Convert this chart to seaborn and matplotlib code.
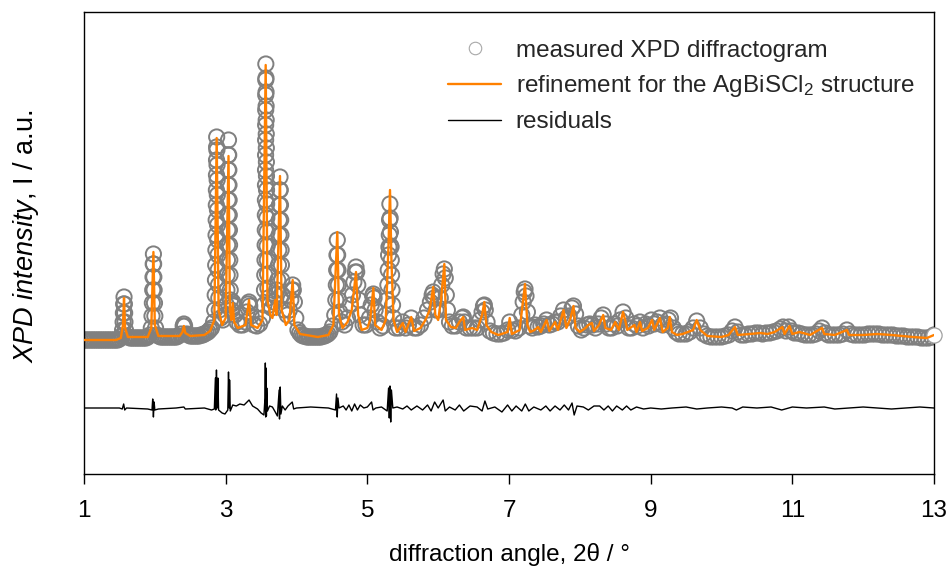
import numpy as np
import matplotlib
matplotlib.use("Agg")
import matplotlib.pyplot as plt
import seaborn as sns
from matplotlib.lines import Line2D

# ---------------- data ----------------
# measured XPD diffractogram (2theta in degrees, intensity in arbitrary units)
obs_x = [
    1.00, 1.025, 1.05, 1.075, 1.10, 1.125, 1.15, 1.175, 1.20, 1.225, 1.25, 1.275, 1.30, 1.325, 1.35, 1.375, 1.40, 1.425, 1.45, 1.475, 1.50,
    1.53, 1.545, 1.552, 1.556, 1.560, 1.565, 1.570, 1.574, 1.578, 1.585, 1.60,
    1.625, 1.65, 1.675, 1.70, 1.725, 1.75, 1.775, 1.80, 1.825, 1.85, 1.875, 1.90,
    1.93, 1.95, 1.96, 1.965, 1.970, 1.974, 1.977, 1.980, 1.983, 1.986, 1.990, 1.995, 2.000, 2.010, 2.03,
    2.055, 2.08, 2.105, 2.13, 2.155, 2.18, 2.205, 2.23, 2.255, 2.28, 2.305, 2.33,
    2.37, 2.40, 2.41, 2.42, 2.45,
    2.475, 2.50, 2.525, 2.55, 2.575, 2.60, 2.625, 2.65, 2.675, 2.70, 2.725, 2.75, 2.775, 2.80, 2.83,
    2.845, 2.852, 2.856, 2.859, 2.862, 2.864, 2.866, 2.868, 2.869, 2.870, 2.871, 2.872, 2.873,
    2.876, 2.878, 2.880, 2.882, 2.884, 2.886, 2.888, 2.891, 2.894, 2.898, 2.903, 2.91, 2.93, 2.96, 2.99,
    3.010, 3.018, 3.022, 3.025, 3.028, 3.030, 3.032, 3.034, 3.036, 3.037, 3.038, 3.040,
    3.043, 3.045, 3.047, 3.049, 3.051, 3.053, 3.055, 3.058, 3.061, 3.064, 3.068,
    3.08, 3.09, 3.10, 3.11, 3.13, 3.16, 3.20, 3.24, 3.28,
    3.30, 3.32, 3.33, 3.34, 3.36, 3.40, 3.44, 3.48, 3.52, 3.54,
    3.548, 3.552, 3.555, 3.557, 3.559, 3.560, 3.561, 3.562, 3.563, 3.5635, 3.564, 3.5645, 3.565, 3.5655, 3.566, 3.567,
    3.569, 3.570, 3.571, 3.572, 3.573, 3.574, 3.575, 3.576, 3.577, 3.579, 3.581, 3.583, 3.585, 3.588, 3.591, 3.595, 3.60,
    3.62, 3.65, 3.68, 3.70, 3.72,
    3.735, 3.745, 3.750, 3.754, 3.757, 3.760, 3.763, 3.767,
    3.771, 3.774, 3.777, 3.780, 3.783, 3.787, 3.792, 3.80,
    3.83, 3.87, 3.90, 3.92, 3.935, 3.946, 3.955, 3.97, 3.99, 4.02,
    4.045, 4.07, 4.095, 4.12, 4.145, 4.17, 4.195, 4.22, 4.245, 4.27, 4.295, 4.32, 4.345, 4.37, 4.395, 4.42, 4.445, 4.47, 4.51,
    4.54, 4.555, 4.562, 4.567, 4.571, 4.576, 4.581, 4.585, 4.590, 4.597, 4.61, 4.64,
    4.68, 4.72, 4.76, 4.79, 4.81, 4.83, 4.84, 4.85, 4.865, 4.88, 4.90, 4.94, 4.98,
    5.03, 5.055, 5.075, 5.085, 5.095, 5.11, 5.14, 5.18, 5.22, 5.26,
    5.28, 5.29, 5.295, 5.30, 5.305, 5.31, 5.314, 5.318, 5.322, 5.326, 5.330, 5.334, 5.338, 5.342, 5.348, 5.356, 5.37,
    5.40, 5.45, 5.50, 5.54, 5.58, 5.62, 5.66, 5.70, 5.75, 5.80, 5.85, 5.89,
    5.915, 5.93, 5.945, 5.97, 6.00, 6.03, 6.05, 6.07, 6.087, 6.10, 6.115, 6.13, 6.16,
    6.20, 6.25, 6.30, 6.34, 6.355, 6.37, 6.40, 6.45, 6.50, 6.55, 6.59,
    6.62, 6.64, 6.652, 6.665, 6.69, 6.73, 6.78, 6.83, 6.88, 6.93, 6.98, 7.01, 7.04, 7.09, 7.14, 7.18,
    7.20, 7.215, 7.226, 7.24, 7.26, 7.29,
    7.33, 7.37, 7.41, 7.45, 7.49, 7.53, 7.57, 7.61, 7.65, 7.69, 7.73, 7.77, 7.81, 7.85, 7.89, 7.91, 7.94, 7.98,
    8.02, 8.06, 8.10, 8.14, 8.18, 8.22, 8.26, 8.30, 8.33, 8.37, 8.41, 8.45, 8.49, 8.53, 8.57, 8.61, 8.65, 8.69,
    8.73, 8.77, 8.81, 8.85, 8.89, 8.93, 8.97,
    9.01, 9.05, 9.09, 9.13, 9.17, 9.21, 9.25, 9.28, 9.32, 9.36, 9.40, 9.45, 9.50, 9.55, 9.60, 9.65, 9.70, 9.75,
    9.80, 9.85, 9.90, 9.95,
    10.00, 10.05, 10.10, 10.15, 10.19, 10.23, 10.28, 10.33, 10.38, 10.43, 10.48, 10.53, 10.58, 10.63, 10.68,
    10.73, 10.78, 10.83, 10.87, 10.91, 10.95, 10.99,
    11.03, 11.08, 11.13, 11.18, 11.23, 11.28, 11.33, 11.38, 11.42, 11.46, 11.51, 11.56, 11.61, 11.66, 11.71,
    11.77, 11.82, 11.87, 11.92, 11.97,
    12.02, 12.07, 12.12, 12.17, 12.22, 12.27, 12.32, 12.37, 12.42, 12.47, 12.52, 12.57, 12.62, 12.67, 12.72,
    12.77, 12.82, 12.87, 12.92, 12.97, 13.00,
]
obs_y = [
    0, 0, 0, 0, 0, 0, 0, 0, 0, 0, 0, 0, 0, 0, 0, 0, 0, 0, 0, 0, 1,
    4, 10, 18, 27, 36, 43, 36, 27, 18, 10, 4,
    3, 2, 2, 2, 2, 2, 2, 2, 2, 2, 2, 3,
    5, 12, 24, 37, 50, 63, 76, 86, 76, 63, 50, 37, 24, 12, 5,
    4, 3, 3, 3, 3, 3, 3, 3, 3, 3, 3, 4,
    6, 14, 16, 14, 6,
    5, 4, 4, 4, 4, 4, 4, 5, 5, 6, 7, 8, 10, 12, 18,
    30, 45, 60, 75, 90, 105, 120, 135, 150, 165, 180, 193, 203,
    190, 175, 160, 145, 130, 115, 100, 85, 70, 55, 42, 30, 22, 20, 25,
    35, 50, 65, 80, 95, 110, 125, 140, 155, 170, 185, 200,
    185, 170, 155, 140, 125, 110, 95, 80, 65, 50, 40,
    30, 36, 38, 34, 25, 18, 15, 15, 18,
    28, 36, 38, 34, 24, 15, 14, 16, 22, 35,
    50, 65, 80, 95, 110, 125, 140, 155, 170, 185, 200, 215, 230, 245, 260, 276,
    262, 248, 234, 220, 206, 192, 178, 164, 150, 136, 122, 108, 94, 80, 66, 52, 42,
    35, 32, 38, 45, 50,
    60, 75, 90, 105, 120, 135, 150, 163,
    150, 135, 120, 105, 90, 75, 60, 45,
    30, 25, 30, 40, 50, 55, 50, 38, 22, 10,
    7, 5, 4, 4, 3, 3, 3, 3, 3, 3, 3, 3, 3, 4, 4, 5, 6, 8, 14,
    25, 40, 55, 70, 85, 100, 85, 70, 55, 40, 28, 18,
    15, 22, 35, 45, 58, 68, 73, 68, 55, 40, 25, 15, 15,
    22, 35, 44, 46, 42, 30, 18, 12, 14, 25,
    40, 55, 70, 85, 93, 105, 120, 136, 122, 108, 94, 93, 80, 65, 50, 35, 22,
    12, 12, 18, 12, 15, 22, 12, 12, 15, 22, 30, 38,
    45, 48, 42, 30, 30, 42, 55, 66, 71, 62, 45, 30, 18,
    14, 14, 18, 22, 23, 18, 12, 12, 12, 12, 20,
    28, 34, 35, 30, 18, 9, 7, 6, 6, 7, 10, 18, 10, 9, 12, 25,
    38, 48, 51, 44, 28, 14,
    12, 15, 13, 14, 16, 20, 15, 16, 18, 18, 24, 30, 22, 24, 32, 34, 26, 14,
    10, 12, 15, 16, 15, 12, 16, 22, 25, 16, 12, 12, 16, 14, 20, 28, 22, 12,
    12, 16, 14, 18, 12, 16, 14,
    20, 16, 18, 22, 15, 16, 20, 22, 12, 8, 6, 6, 6, 8, 12, 19, 12, 6,
    4, 3, 3, 3,
    3, 4, 5, 9, 13, 8, 5, 5, 6, 6, 7, 7, 6, 7, 7,
    8, 9, 11, 13, 9, 13, 9,
    7, 7, 6, 5, 5, 5, 6, 9, 12, 7, 5, 5, 5, 5, 6,
    10, 6, 5, 5, 5,
    5, 6, 6, 6, 6, 5, 5, 5, 5, 4, 4, 4, 3, 3, 3,
    3, 2, 2, 2, 3, 5,
]

# refinement for the AgBiSCl2 structure
calc_x = [
    1.00, 1.45, 1.52, 1.55, 1.565, 1.58, 1.62, 1.90, 1.95, 1.98, 2.00, 2.05, 2.35, 2.39, 2.41, 2.43, 2.50, 2.70, 2.78, 2.84,
    2.873, 2.90, 2.95, 3.00, 3.04, 3.06, 3.08, 3.10, 3.12, 3.17, 3.28, 3.33, 3.36, 3.45, 3.52, 3.565, 3.59, 3.63, 3.66, 3.70,
    3.72, 3.767, 3.79, 3.85, 3.90, 3.946, 3.97, 4.05, 4.30, 4.45, 4.52, 4.576, 4.60, 4.65, 4.72, 4.78, 4.84, 4.87, 4.92, 5.00,
    5.04, 5.085, 5.11, 5.20, 5.26, 5.30, 5.32, 5.34, 5.37, 5.42, 5.50, 5.54, 5.62, 5.66, 5.75, 5.82, 5.88, 5.93, 5.96, 6.00,
    6.04, 6.087, 6.11, 6.18, 6.25, 6.30, 6.355, 6.38, 6.48, 6.55, 6.62, 6.652, 6.68, 6.75, 6.85, 6.98, 7.01, 7.04, 7.15, 7.226,
    7.26, 7.30, 7.36, 7.41, 7.45, 7.53, 7.57, 7.65, 7.69, 7.77, 7.81, 7.87, 7.91, 7.94, 8.00, 8.08, 8.12, 8.17, 8.20, 8.27,
    8.33, 8.36, 8.44, 8.50, 8.55, 8.61, 8.64, 8.67, 8.77, 8.80, 8.85, 8.88, 8.96, 9.02, 9.05, 9.13, 9.17, 9.24, 9.27, 9.30,
    9.37, 9.45, 9.60, 9.65, 9.70, 9.80, 10.00, 10.10, 10.19, 10.23, 10.40, 10.55, 10.65, 10.75, 10.86, 10.89, 10.96, 11.00, 11.10, 11.25,
    11.42, 11.45, 11.60, 11.77, 11.80, 12.00, 12.20, 12.40, 12.70, 12.90, 13.00,
]
calc_y = [
    0, 0, 2, 15, 42, 12, 3, 3, 12, 88, 15, 4, 4, 8, 14, 7, 4, 5, 9, 20,
    202, 30, 15, 22, 184, 30, 20, 37, 18, 12, 15, 40, 15, 12, 20, 275, 40, 25, 22, 40,
    25, 164, 30, 15, 20, 60, 15, 6, 3, 5, 15, 108, 25, 12, 18, 30, 68, 25, 10, 12,
    20, 52, 15, 10, 20, 97, 150, 80, 20, 8, 17, 8, 23, 9, 12, 20, 30, 53, 25, 20,
    40, 76, 20, 13, 12, 18, 23, 10, 12, 10, 25, 38, 15, 8, 5, 8, 22, 6, 10, 56,
    15, 8, 10, 13, 8, 20, 9, 18, 10, 30, 12, 22, 34, 12, 8, 12, 15, 17, 9, 15,
    25, 12, 10, 18, 10, 28, 20, 10, 15, 8, 18, 9, 12, 20, 10, 22, 8, 12, 23, 8,
    5, 6, 10, 20, 10, 4, 3, 5, 13, 5, 6, 7, 6, 8, 13, 6, 14, 6, 8, 5,
    12, 6, 5, 10, 5, 5, 6, 5, 3, 2, 5,
]

# residuals (measured - refined)
res_x = [
    1.00, 1.50, 1.54, 1.56, 1.575, 1.60, 1.90, 1.96, 1.97, 1.98, 1.99, 2.00, 2.05, 2.30, 2.41, 2.43, 2.70, 2.80, 2.84, 2.855,
    2.86, 2.87, 2.88, 2.89, 2.90, 2.95, 2.99, 3.03, 3.04, 3.05, 3.055, 3.065, 3.10, 3.15, 3.20, 3.26, 3.33, 3.38, 3.45, 3.50,
    3.54, 3.555, 3.56, 3.565, 3.57, 3.575, 3.58, 3.59, 3.62, 3.66, 3.70, 3.73, 3.755, 3.76, 3.77, 3.78, 3.80, 3.84, 3.88, 3.94,
    3.96, 4.00, 4.20, 4.45, 4.55, 4.565, 4.575, 4.585, 4.60, 4.66, 4.70, 4.74, 4.78, 4.82, 4.86, 4.90, 4.95, 5.00, 5.06, 5.08,
    5.12, 5.20, 5.28, 5.30, 5.31, 5.32, 5.33, 5.34, 5.36, 5.42, 5.50, 5.56, 5.62, 5.70, 5.78, 5.85, 5.90, 5.95, 6.00, 6.07,
    6.10, 6.16, 6.24, 6.30, 6.36, 6.45, 6.55, 6.62, 6.66, 6.70, 6.80, 6.90, 6.98, 7.04, 7.10, 7.18, 7.23, 7.28, 7.35, 7.45,
    7.52, 7.58, 7.65, 7.72, 7.78, 7.84, 7.89, 7.92, 7.96, 8.05, 8.12, 8.20, 8.28, 8.34, 8.40, 8.46, 8.52, 8.60, 8.66, 8.72,
    8.80, 8.90, 9.00, 9.15, 9.30, 9.50, 9.65, 9.80, 10.00, 10.15, 10.21, 10.30, 10.50, 10.70, 10.85, 11.00, 11.20, 11.45, 11.60, 11.80,
    12.00, 12.20, 12.40, 12.60, 12.80, 13.00,
]
res_y = [
    0, 0, -1, 4, -2, 0, -1, -2, 9, -9, 6, -2, -1, 0, 1, -1, 0, -2, -1, 30,
    -2, 38, 0, 30, -2, -5, -6, -2, 36, 0, 28, -3, 3, 2, 4, 3, 8, 2, -1, -5,
    -7, 10, 45, -9, 40, -8, 20, -3, 2, 1, -4, -8, 18, -11, 21, -6, 2, -2, 2, 6,
    -1, 0, 1, 0, -2, 14, -9, 10, 0, 2, -2, 3, -3, 4, -2, 3, 0, 1, 6, -2,
    0, 1, -3, 20, -10, 22, -14, 18, 0, 1, -1, 2, -2, 2, -2, 3, -3, 6, 0, 8,
    -3, 1, -2, 3, -3, 2, 1, -3, 7, -1, 1, -4, 3, -3, 2, -3, 4, -3, 1, -2,
    2, -3, 2, -2, 3, -2, 5, -7, 2, 1, -2, 2, 2, -2, 2, -3, 2, -2, 2, -2,
    1, -1, 0, -1, 0, 1, -1, 0, 1, 0, -2, 1, 0, 1, -2, 1, 0, 1, -1, 0,
    1, 0, -1, 0, 1, 0,
]

x_ticks = [1, 3, 5, 7, 9, 11, 13]
legend_labels = ["measured XPD diffractogram",
                 r"refinement for the AgBiSCl$_2$ structure",
                 "residuals"]

assert len(obs_x) == len(obs_y), (len(obs_x), len(obs_y))
assert len(calc_x) == len(calc_y), (len(calc_x), len(calc_y))
assert len(res_x) == len(res_y), (len(res_x), len(res_y))

# ---------------- styling / layout ----------------
sns.set_theme(style="white")
plt.rcParams["font.family"] = ["Liberation Sans", "DejaVu Sans"]
plt.rcParams["mathtext.fontset"] = "custom"
plt.rcParams["mathtext.rm"] = "Liberation Sans"
plt.rcParams["mathtext.it"] = "Liberation Sans:italic"
plt.rcParams["mathtext.bf"] = "Liberation Sans:bold"

FS = 17.5
RES_OFFSET = -68
ORANGE = "#ff8000"
GREY = "#808080"

fig = plt.figure(figsize=(9.52, 5.81), dpi=100)
ax = fig.add_axes([84 / 952, 1 - 474 / 581, 850 / 952, 462 / 581])

sns.scatterplot(x=obs_x, y=obs_y, ax=ax, marker="o", s=120,
                facecolor="none", edgecolor=GREY, linewidth=1.4,
                legend=False, zorder=2)
# last measured point drawn over the frame, as in the original
sns.scatterplot(x=obs_x[-1:], y=obs_y[-1:], ax=ax, marker="o", s=120,
                facecolor="white", edgecolor="#a0a0a0", linewidth=0.9,
                legend=False, zorder=5, clip_on=False)
sns.lineplot(x=calc_x, y=calc_y, ax=ax, sort=False, estimator=None,
             color=ORANGE, linewidth=1.7, zorder=6)
sns.lineplot(x=res_x, y=np.array(res_y) + RES_OFFSET, ax=ax, sort=False,
             estimator=None, color="black", linewidth=1.0, zorder=4)

ax.set_xlim(1, 13)
ax.set_ylim(-134, 328)
ax.set_xticks(x_ticks)
ax.set_xticklabels([str(t) for t in x_ticks])
ax.set_yticks([])
ax.tick_params(axis="x", bottom=True, direction="out", length=7, width=1.0,
               color="black", labelsize=FS, pad=12, labelcolor="black")
for sp in ax.spines.values():
    sp.set_visible(True)
    sp.set_color("black")
    sp.set_linewidth(1.0)

ax.set_xlabel("diffraction angle, 2θ / °", fontsize=FS, color="black", labelpad=15)
ax.set_ylabel(r"$\it{XPD\ intensity}$, I / a.u.", fontsize=19.5, color="black")
ax.yaxis.set_label_coords(-0.05, 0.515)

handles = [
    Line2D([], [], marker="o", linestyle="none", markerfacecolor="white",
           markeredgecolor="#a8a8a8", markersize=9, markeredgewidth=0.8),
    Line2D([], [], color=ORANGE, linewidth=1.7),
    Line2D([], [], color="black", linewidth=1.0),
]
ax.legend(handles, legend_labels, loc="upper left", bbox_to_anchor=(0.428, 0.94),
          frameon=False, fontsize=FS, handlelength=2.2, handletextpad=0.6,
          labelspacing=0.48, borderpad=0, borderaxespad=0)

fig.savefig("out.png", dpi=100)
